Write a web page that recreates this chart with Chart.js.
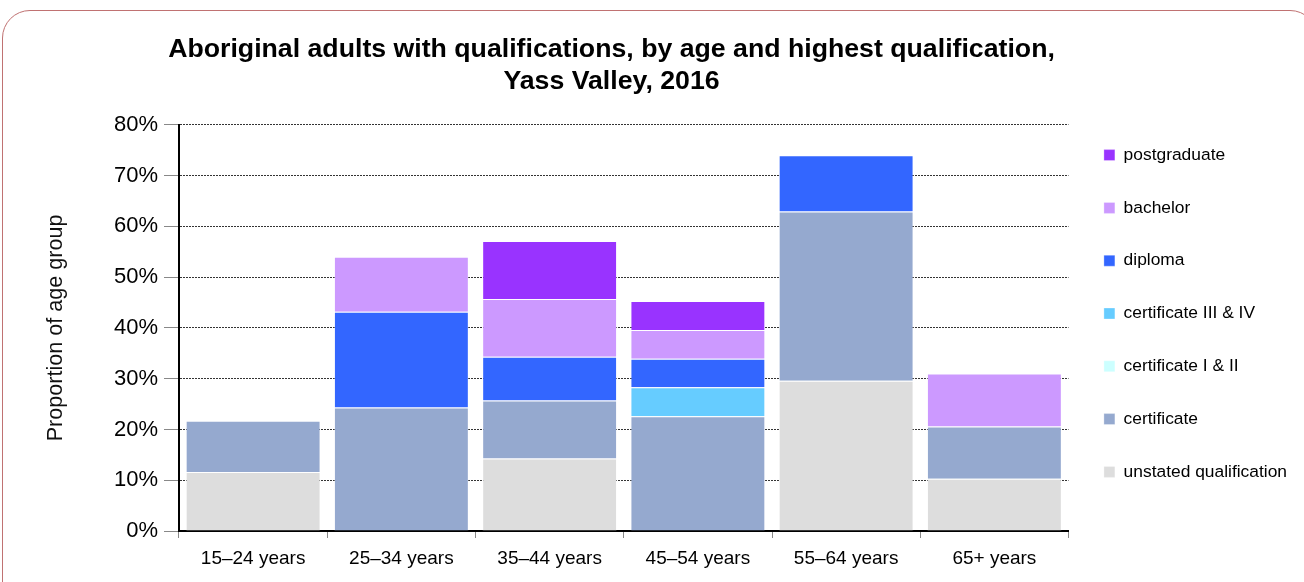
<!DOCTYPE html>
<html>
<head>
<meta charset="utf-8">
<script src="https://cdn.jsdelivr.net/npm/chart.js@4.4.1/dist/chart.umd.min.js"></script>
<style>
  html, body { margin: 0; padding: 0; background: #fff; overflow: hidden; width: 1304px; height: 582px; }
  #frame {
    position: absolute; left: 2px; top: 10px; width: 1316px; height: 700px;
    border: 1.5px solid #c07272; border-radius: 28px; box-sizing: border-box;
  }
  #wrap { position: absolute; left: -74px; top: 0; width: 1371px; height: 627px; }
</style>
</head>
<body>
<div id="frame"></div>
<div id="wrap"><canvas id="qualChart"></canvas></div>
<script>
const ageGroups = ['15–24 years', '25–34 years', '35–44 years', '45–54 years', '55–64 years', '65+ years'];
const unstated = [11.6, 0, 14.3, 0, 29.6, 10.3];
const certificate = [10.1, 24.3, 11.4, 22.6, 33.3, 10.3];
const certOneTwo = [0, 0, 0, 0, 0, 0];
const certThreeFour = [0, 0, 0, 5.7, 0, 0];
const diploma = [0, 18.9, 8.6, 5.6, 11.1, 0];
const bachelor = [0, 10.8, 11.4, 5.7, 0, 10.4];
const postgraduate = [0, 0, 11.4, 5.7, 0, 0];
const yTicks = [0, 10, 20, 30, 40, 50, 60, 70, 80];

Chart.defaults.font.family = "'Liberation Sans', Arial, sans-serif";
Chart.defaults.color = '#000';

const series = [
    {label: 'unstated qualification', data: unstated, color: '#dddddd'},
    {label: 'certificate', data: certificate, color: '#95a9cf'},
    {label: 'certificate I & II', data: certOneTwo, color: '#ccffff'},
    {label: 'certificate III & IV', data: certThreeFour, color: '#66ccff'},
    {label: 'diploma', data: diploma, color: '#3366ff'},
    {label: 'bachelor', data: bachelor, color: '#cc99ff'},
    {label: 'postgraduate', data: postgraduate, color: '#9933ff'}
];

const ctx = document.getElementById('qualChart').getContext('2d');
const qualChart = new Chart(ctx, {
    type: 'bar',
    data: {
        labels: ageGroups,
        datasets: series.map(s => ({
            label: s.label,
            data: s.data,
            backgroundColor: s.color,
            borderColor: 'rgba(255,255,255,0.3)',
            borderWidth: 1,
            categoryPercentage: 1,
            barPercentage: 0.91
        }))
    },
    options: {
        responsive: true,
        maintainAspectRatio: false,
        animation: false,
        events: [],
        layout: {padding: 0},
        plugins: {
            title: {
                display: true,
                text: ['Aboriginal adults with qualifications, by age and highest qualification,', 'Yass Valley, 2016'],
                font: {size: 26.7, weight: 'bold', lineHeight: 1.2},
                color: '#000',
                padding: {top: 34, bottom: 26.7}
            },
            legend: {
                position: 'right',
                reverse: true,
                labels: {
                    boxWidth: 11,
                    boxHeight: 11,
                    padding: 35.4,
                    font: {size: 17.4},
                    color: '#000'
                }
            },
            tooltip: {enabled: false}
        },
        scales: {
            x: {
                stacked: true,
                afterFit: scale => { scale.height = 96; },
                grid: {drawOnChartArea: false, drawTicks: true, tickLength: 7, tickColor: '#888', offset: true},
                border: {color: '#000', width: 2},
                ticks: {font: {size: 19}, color: '#000', padding: 9}
            },
            y: {
                stacked: true,
                min: 0,
                max: 80,
                afterBuildTicks: scale => { scale.ticks = yTicks.map(v => ({value: v})); },
                afterFit: scale => { scale.width = 253; },
                grid: {color: '#333', lineWidth: 1, tickLength: 15, tickColor: '#888'},
                border: {color: '#000', width: 2, dash: [2, 1]},
                ticks: {font: {size: 22}, color: '#000', padding: 6, callback: v => v + '%'},
                title: {
                    display: true,
                    text: 'Proportion of age group',
                    font: {size: 21.6},
                    color: '#111',
                    padding: {top: 117, bottom: 0}
                }
            }
        }
    }
});
</script>
</body>
</html>
